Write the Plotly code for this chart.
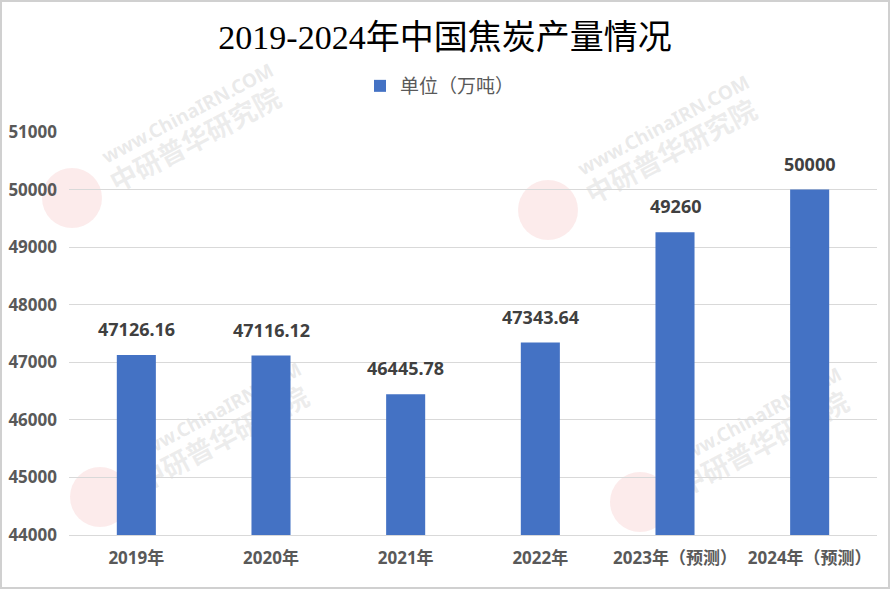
import math
import plotly.graph_objects as go

# ---- data ----
categories = ["2019年", "2020年", "2021年", "2022年", "2023年（预测）", "2024年（预测）"]
values = [47126.16, 47116.12, 46445.78, 47343.64, 49260, 50000]
value_labels = ["47126.16", "47116.12", "46445.78", "47343.64", "49260", "50000"]
series_name = "单位（万吨）"
title_text = "2019-2024年中国焦炭产量情况"
y_ticks = [44000, 45000, 46000, 47000, 48000, 49000, 50000, 51000]

W, H = 890, 589
ML, MR, MT, MB = 69, 13, 132, 54
PW, PH = W - ML - MR, H - MT - MB

def px_x(p):
    return (p - ML) / PW

def px_y(p):
    return (H - MB - p) / PH

BAR = "#4472C4"
SANS = "Noto Sans, Noto Sans CJK SC, sans-serif"

fig = go.Figure()
fig.add_trace(go.Bar(
    x=categories, y=values, name=series_name,
    marker=dict(color=BAR, line=dict(width=0)),
    showlegend=True,
))

# data labels
for c, v, t in zip(categories, values, value_labels):
    fig.add_annotation(x=c, y=v, text=t, showarrow=False, yanchor="bottom",
                       yshift=12, font=dict(family=SANS, size=18, color="#404040",
                                            weight="bold"))

# watermarks (decorative, faint, drawn below the bars)
wm = [(72, 198), (548, 210), (100, 497), (640, 502)]
ang = math.radians(28)
shapes = []
for cx, cy in wm:
    r = 30
    shapes.append(dict(type="circle", xref="paper", yref="paper",
                       x0=px_x(cx - r), x1=px_x(cx + r), y0=px_y(cy + r), y1=px_y(cy - r),
                       fillcolor="rgba(235,110,110,0.14)", line=dict(width=0), layer="below"))
    for (ox, oy, txt, sz, col) in [
        (116, -84, "www.ChinaIRN.COM", 19, "rgba(190,190,190,0.32)"),
        (124, -57, "中研普华研究院", 27, "rgba(190,190,190,0.28)"),
    ]:
        mx, my = cx + ox, cy + oy
        dx, dy = 100 * math.cos(ang), 100 * math.sin(ang)
        shapes.append(dict(type="line", xref="paper", yref="paper",
                           x0=px_x(mx - dx), y0=px_y(my + dy), x1=px_x(mx + dx), y1=px_y(my - dy),
                           line=dict(width=0, color="rgba(0,0,0,0)"), layer="below",
                           label=dict(text=txt, textposition="middle", yanchor="middle",
                                      font=dict(family=SANS, size=sz, color=col, weight="bold"))))

# outer border
shapes.append(dict(type="rect", xref="paper", yref="paper",
                   x0=px_x(1), x1=px_x(W - 1), y0=px_y(H - 1), y1=px_y(1),
                   line=dict(color="#D0D0D0", width=2), fillcolor="rgba(0,0,0,0)", layer="above"))

fig.update_layout(
    width=W, height=H,
    margin=dict(l=ML, r=MR, t=MT, b=MB, autoexpand=False),
    paper_bgcolor="white", plot_bgcolor="white",
    title=dict(text=title_text, x=0.5, xanchor="center", y=1 - 37 / H, yanchor="middle",
               font=dict(family="Liberation Serif, Noto Sans CJK SC, serif", size=34, color="black")),
    legend=dict(orientation="h", x=px_x(440), xanchor="center", y=px_y(86), yanchor="middle",
                font=dict(family=SANS, size=19, color="#595959"), bgcolor="rgba(0,0,0,0)"),
    bargap=0.71,
    shapes=shapes,
    showlegend=True,
)
fig.update_xaxes(range=[-0.5, 5.5], showgrid=False, showline=True, linecolor="#D9D9D9",
                 linewidth=1, ticks="", ticklabelstandoff=8, automargin=False,
                 tickfont=dict(family=SANS, size=17, color="#595959", weight="bold"))
fig.update_yaxes(range=[44000, 51000], tickvals=y_ticks, tickformat="d", showgrid=True,
                 gridcolor="#D9D9D9", gridwidth=1, zeroline=False, showline=False, ticks="",
                 ticklabelstandoff=11, automargin=False,
                 tickfont=dict(family=SANS, size=17, color="#595959", weight="bold"))

fig.write_html("out.html", config={"displayModeBar": False},
               post_script="document.body.style.margin='0';document.body.style.padding='0';")
